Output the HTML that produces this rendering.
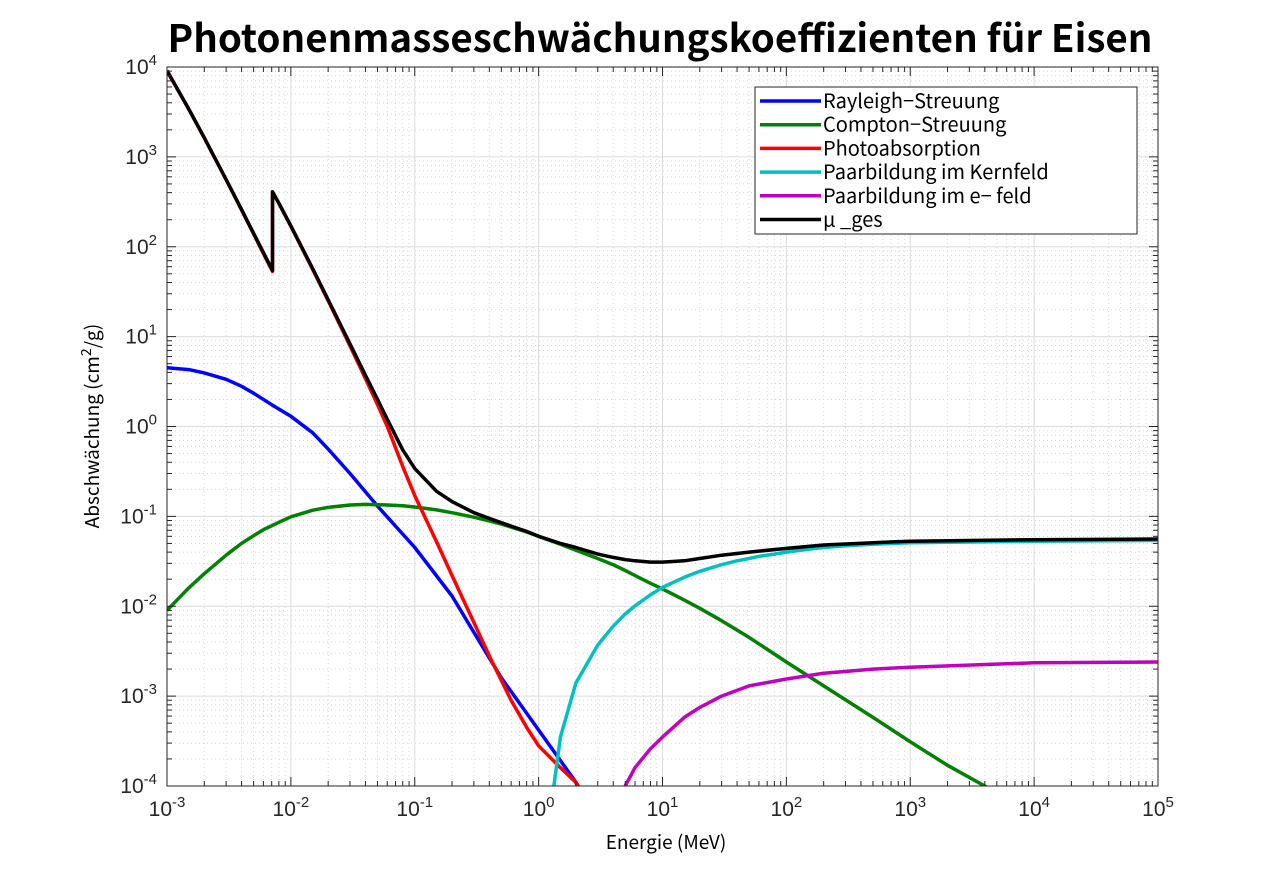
<!DOCTYPE html>
<html><head><meta charset="utf-8"><style>
body{margin:0;background:#fff;}
svg{display:block;font-family:"Liberation Sans","Noto Sans CJK JP",sans-serif;}
</style></head><body>
<svg id="chart" width="1280" height="882" viewBox="0 0 1280 882">
<defs><clipPath id="clip"><rect x="167" y="67" width="991" height="719"/></clipPath></defs>
<text x="660" y="52" text-anchor="middle" font-size="38" font-weight="bold" font-family="'Noto Sans CJK JP',sans-serif" textLength="985" lengthAdjust="spacingAndGlyphs">Photonenmasseschwächungskoeffizienten für Eisen</text>
<g id="grid"></g>
<g id="series" clip-path="url(#clip)"></g>
<g id="axes"></g>
<text x="666" y="849" text-anchor="middle" font-size="19" font-family="'Noto Sans CJK JP',sans-serif">Energie (MeV)</text>
<text transform="translate(99,426) rotate(-90)" text-anchor="middle" font-size="19" font-family="'Noto Sans CJK JP',sans-serif">Abschwächung (cm<tspan dy="-8" font-size="14">2</tspan><tspan dy="8">/g)</tspan></text>
<g id="legend"></g>
</svg>
<script>
const rayE=[0.001,0.0015,0.002,0.003,0.004,0.005,0.007,0.01,0.015,0.02,0.03,0.05,0.1,0.2,0.5,1,2,2.2];
const rayV=[4.5,4.3,3.95,3.35,2.8,2.35,1.75,1.3,0.85,0.56,0.3,0.13,0.045,0.013,0.0016,0.00042,0.00011,0.00008];
const comE=[0.001,0.0015,0.002,0.003,0.004,0.005,0.006,0.008,0.01,0.015,0.02,0.03,0.04,0.05,0.06,0.08,0.1,0.15,0.2,0.3,0.4,0.5,0.6,0.8,1,1.5,2,3,4,5,6,8,10,15,20,30,50,100,200,500,1000,2000,4000,10000];
const comV=[0.009,0.016,0.023,0.037,0.050,0.061,0.071,0.086,0.099,0.117,0.126,0.134,0.136,0.135,0.134,0.131,0.127,0.118,0.110,0.098,0.089,0.082,0.076,0.067,0.060,0.049,0.042,0.034,0.029,0.025,0.022,0.018,0.0156,0.0117,0.0095,0.0069,0.0045,0.0024,0.0013,0.00058,0.00031,0.00017,0.0001,0.000045];
const phoE=[0.001,0.0015,0.002,0.003,0.004,0.005,0.006,0.00711,0.00711,0.008,0.01,0.015,0.02,0.03,0.04,0.05,0.06,0.08,0.1,0.15,0.2,0.3,0.4,0.5,0.6,0.8,1,1.5,2,2.2];
const phoV=[9081,3395,1626,557,256,139,84,53,407,303,169,56,25,7.9,3.4,1.75,1.0,0.36,0.17,0.052,0.022,0.0066,0.0028,0.0015,0.0009,0.00045,0.00028,0.00016,0.00011,0.00009];
const pnE=[1.3,1.5,2,3,4,5,6,8,10,15,20,30,40,50,60,80,100,150,200,300,500,1000,10000,100000];
const pnV=[0.00008,0.00035,0.0014,0.0037,0.006,0.0082,0.0101,0.0134,0.0162,0.021,0.0245,0.029,0.032,0.034,0.036,0.038,0.040,0.043,0.045,0.047,0.049,0.051,0.053,0.054];
const peE=[5,6,8,10,15,20,30,50,100,200,500,1000,10000,100000];
const peV=[0.0001,0.00016,0.00026,0.00035,0.00058,0.00075,0.001,0.0013,0.00155,0.0018,0.002,0.0021,0.00235,0.0024];
const totE=[0.001,0.0015,0.002,0.003,0.004,0.005,0.006,0.00711,0.00711,0.008,0.01,0.015,0.02,0.03,0.04,0.05,0.06,0.08,0.1,0.15,0.2,0.3,0.4,0.5,0.6,0.8,1,1.5,2,3,4,5,6,8,10,15,20,30,50,100,200,500,1000,10000,100000];
const totV=[9086,3399,1630,560,259,141,86,54.5,409,305,170,57,25.6,8.3,3.7,2.0,1.2,0.55,0.34,0.19,0.146,0.110,0.095,0.085,0.078,0.068,0.060,0.050,0.045,0.038,0.035,0.033,0.032,0.031,0.031,0.032,0.034,0.037,0.040,0.044,0.048,0.051,0.053,0.055,0.056];
const xTicks=[-3,-2,-1,0,1,2,3,4,5];
const yTicks=[-4,-3,-2,-1,0,1,2,3,4];
const X0=167,X1=1158,Y0=67,Y1=786;
const xs=e=>X0+(Math.log10(e)+3)/8*(X1-X0);
const ys=v=>Y1-(Math.log10(v)+4)/8*(Y1-Y0);
const NS='http://www.w3.org/2000/svg';
function mk(t,a,p){const e=document.createElementNS(NS,t);for(const k in a)e.setAttribute(k,a[k]);p.appendChild(e);return e;}
const grid=document.getElementById('grid'),axes=document.getElementById('axes');
mk('rect',{x:X0,y:Y0,width:X1-X0,height:Y1-Y0,fill:'#fff'},grid);
for(let d=-3;d<5;d++)for(let m=2;m<10;m++){const x=xs(m*Math.pow(10,d));
 const l=mk('line',{x1:x,x2:x,y1:Y0,y2:Y1,stroke:'#d8d8d8','stroke-dasharray':'1,3'},grid);
 
 mk('line',{x1:x,x2:x,y1:Y1,y2:Y1-5,stroke:'#262626'},axes);mk('line',{x1:x,x2:x,y1:Y0,y2:Y0+5,stroke:'#262626'},axes);}
for(let d=-4;d<4;d++)for(let m=2;m<10;m++){const y=ys(m*Math.pow(10,d));
 const l=mk('line',{x1:X0,x2:X1,y1:y,y2:y,stroke:'#d8d8d8','stroke-dasharray':'1,3'},grid);
 
 mk('line',{x1:X0,x2:X0+5,y1:y,y2:y,stroke:'#262626'},axes);mk('line',{x1:X1,x2:X1-5,y1:y,y2:y,stroke:'#262626'},axes);}
xTicks.forEach(p=>{const x=xs(Math.pow(10,p));
 const l=mk('line',{x1:x,x2:x,y1:Y0,y2:Y1,stroke:'#dcdcdc'},grid);
 
 mk('line',{x1:x,x2:x,y1:Y1,y2:Y1-9,stroke:'#262626'},axes);mk('line',{x1:x,x2:x,y1:Y0,y2:Y0+9,stroke:'#262626'},axes);
 const t=mk('text',{x:x,y:Y1+30,'text-anchor':'middle','font-size':21,fill:'#262626'},axes);
 t.innerHTML='10<tspan dy="-9" font-size="15">'+p+'</tspan>';
 });
yTicks.forEach(p=>{const y=ys(Math.pow(10,p));
 const l=mk('line',{x1:X0,x2:X1,y1:y,y2:y,stroke:'#dcdcdc'},grid);
 
 mk('line',{x1:X0,x2:X0+9,y1:y,y2:y,stroke:'#262626'},axes);mk('line',{x1:X1,x2:X1-9,y1:y,y2:y,stroke:'#262626'},axes);
 const t=mk('text',{x:X0-10,y:y+7,'text-anchor':'end','font-size':21,fill:'#262626'},axes);
 t.innerHTML='10<tspan dy="-9" font-size="15">'+p+'</tspan>';
 });
const fr=mk('rect',{x:X0,y:Y0,width:X1-X0,height:Y1-Y0,fill:'none',stroke:'#262626'},axes);

const ser=document.getElementById('series');
const defs=[['rayleigh-line',rayE,rayV,'#0000ff'],['compton-line',comE,comV,'#008000'],['photo-line',phoE,phoV,'#ff0000'],['pair-nucleus-line',pnE,pnV,'#00bfbf'],['pair-electron-line',peE,peV,'#bf00bf'],['total-line',totE,totV,'#000000']];
defs.forEach(([n,E,V,c])=>{const d=E.map((e,i)=>(i?'L':'M')+xs(e).toFixed(1)+','+ys(V[i]).toFixed(1)).join('');
 const p=mk('path',{d:d,fill:'none',stroke:c,'stroke-width':3.5,'stroke-linejoin':'round'},ser);
 });
const lg=document.getElementById('legend');
const box=mk('rect',{x:755,y:87,width:382,height:147,fill:'#fff',stroke:'#262626'},lg);

const labels=['Rayleigh−Streuung','Compton−Streuung','Photoabsorption','Paarbildung im Kernfeld','Paarbildung im e− feld','μ _ges'];
labels.forEach((s,i)=>{const y=101+i*23.7;const g=mk('g',{},lg);
 
 mk('line',{x1:760,x2:821,y1:y,y2:y,stroke:defs[i][3],'stroke-width':3.5},g);
 const t=mk('text',{x:823,y:y+7,'font-size':20,'font-family':"'Noto Sans CJK JP',sans-serif"},g);t.textContent=s;});
</script>
</body></html>
